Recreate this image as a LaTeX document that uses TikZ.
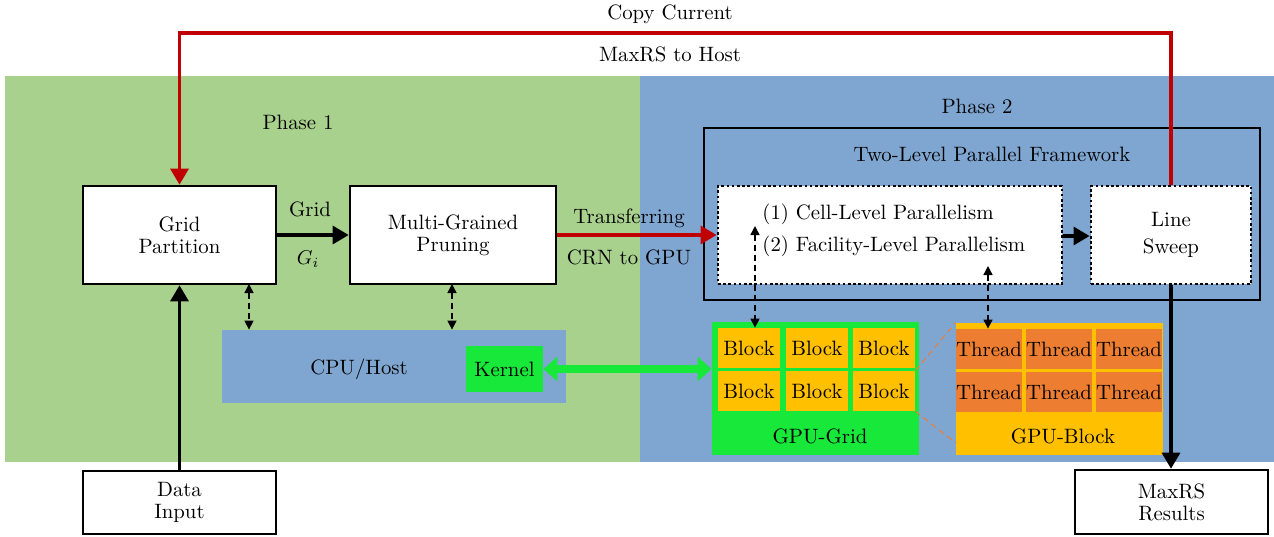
\documentclass[tikz,border=0pt]{standalone}
\usetikzlibrary{arrows.meta,calc}
\definecolor{phgreen}{RGB}{169,209,142}
\definecolor{phblue}{RGB}{127,166,209}
\definecolor{kgreen}{RGB}{23,232,58}
\definecolor{byellow}{RGB}{255,192,0}
\definecolor{torange}{RGB}{237,125,49}
\definecolor{darkred}{RGB}{192,0,0}
\begin{document}
\begin{tikzpicture}[x=0.5pt,y=-0.5pt,
  font=\fontsize{10.4}{11}\selectfont,
  box/.style={draw,line width=1.3pt,fill=white,align=center,inner sep=0pt},
  dotbox/.style={draw,line width=1.4pt,dash pattern=on 1.3pt off 1.3pt,fill=white,align=center,inner sep=0pt},
  area/.style={inner sep=0pt,draw=none},
  blk/.style={fill=byellow,inner sep=0pt,minimum width=31pt,minimum height=20pt},
  thr/.style={fill=torange,inner sep=0pt,minimum width=32pt,minimum height=20pt},
  bigarrow/.style={line width=1.6pt,-{Triangle[length=8pt,width=9pt]}},
  redarrow/.style={line width=1.6pt,draw=darkred,-{Triangle[length=8pt,width=9pt]},color=darkred},
  dasharrow/.style={densely dashed,line width=0.7pt,{Triangle[length=4.5pt,width=4.5pt]}-{Triangle[length=4.5pt,width=4.5pt]}},
  lbl/.style={inner sep=1pt}
]
\useasboundingbox (0,0) rectangle (1274,536);
% backgrounds
\fill[phgreen] (5,76) rectangle (640,462);
\fill[phblue] (640,76) rectangle (1274,462);
\node[lbl] (ph1) at (298,122) {Phase 1};
\node[lbl] (ph2) at (977,106) {Phase 2};
% main boxes
\node[box,minimum width=96.5pt,minimum height=49pt] (GP) at (179.5,235) {Grid\\Partition};
\node[box,minimum width=103pt,minimum height=49pt] (MGP) at (453,235) {Multi-Grained\\Pruning};
\node[box,minimum width=96.5pt,minimum height=31.5pt] (DI) at (179.5,502.5) {Data\\Input};
\node[box,minimum width=96.5pt,minimum height=32pt] (MR) at (1171.5,502) {MaxRS\\Results};
% two-level framework
\node[draw,line width=1.3pt,inner sep=0pt,minimum width=278pt,minimum height=86pt] (TL) at (982,214) {};
\node[lbl] (TLt) at (992,154) {Two-Level Parallel Framework};
\node[dotbox,minimum width=172pt,minimum height=49pt] (PB) at (890,235) {};
\node[lbl,anchor=west] (c1) at (760,214) {(1) Cell-Level Parallelism};
\node[lbl,anchor=west] (c2) at (760,246) {(2) Facility-Level Parallelism};
\node[dotbox,minimum width=80pt,minimum height=49pt] (LS) at (1171,235) {Line\\[2.5pt]Sweep};
% CPU / host
\node[area,fill=phblue,minimum width=172pt,minimum height=36.5pt] (CPU) at (394,366.5) {};
\node[lbl] (CPUt) at (359,369) {CPU/Host};
\node[area,fill=kgreen,minimum width=38.5pt,minimum height=23pt] (K) at (504.5,369) {Kernel};
% GPU grid
\node[area,fill=kgreen,minimum width=103.5pt,minimum height=66.5pt] (GG) at (815.5,388.5) {};
\node[lbl] (GGt) at (820,436) {GPU-Grid};
\node[blk] (B11) at (749,348) {Block};
\node[blk] (B12) at (817,348) {Block};
\node[blk] (B13) at (884,348) {Block};
\node[blk] (B21) at (749,391) {Block};
\node[blk] (B22) at (817,391) {Block};
\node[blk] (B23) at (884,391) {Block};
% GPU block
\node[area,fill=byellow,minimum width=103.5pt,minimum height=66pt] (GB) at (1059.5,389) {};
\node[lbl] (GBt) at (1063,436) {GPU-Block};
\node[thr] (T11) at (989,349) {Thread};
\node[thr] (T12) at (1059,349) {Thread};
\node[thr] (T13) at (1129,349) {Thread};
\node[thr] (T21) at (989,392) {Thread};
\node[thr] (T22) at (1059,392) {Thread};
\node[thr] (T23) at (1129,392) {Thread};
% zoom lines
\coordinate (GBlow) at (956,443);
\draw[torange,densely dashed,line width=0.5pt] (B23.north east) -- (GB.north west);
\draw[torange,densely dashed,line width=0.5pt] (B23.south east) -- (GBlow);
% connectors
\draw[bigarrow] (GP) -- (MGP);
\node[lbl] (lg) at (310,209) {Grid};
\node[lbl] (lgi) at (308,259) {$G_i$};
\draw[redarrow] (MGP) -- (PB);
\node[lbl] (lt) at (629,218) {Transferring};
\node[lbl] (lc) at (629,257) {CRN to GPU};
\draw[bigarrow] (PB.east |- 0,236) -- (LS.west |- 0,236);
\draw[bigarrow] (LS.south) -- (LS.south |- MR.north);
\draw[bigarrow] (DI.north) -- (GP.south);
\coordinate (top) at (670,33);
\draw[redarrow] (LS.north) |- (top) -| (GP.north);
\node[lbl] (cc) at (670,14) {Copy Current};
\node[lbl] (mh) at (670,54) {MaxRS to Host};
% dashed double arrows
\coordinate (p1) at (249,284);
\coordinate (p2) at (452,284);
\draw[dasharrow] (p1) -- (p1 |- CPU.north);
\draw[dasharrow] (p2) -- (p2 |- CPU.north);
\coordinate (a1) at (755,226);
\coordinate (a2) at (988,266);
\draw[dasharrow] (a1) -- (a1 |- B11.north);
\draw[dasharrow] (a2) -- (a2 |- T11.north);
% kernel double arrow
\draw[kgreen,line width=4pt,{Triangle[length=7pt,width=12pt]}-{Triangle[length=7pt,width=12pt]}] (K.east) -- (K.east -| GG.west);
\end{tikzpicture}
\end{document}
